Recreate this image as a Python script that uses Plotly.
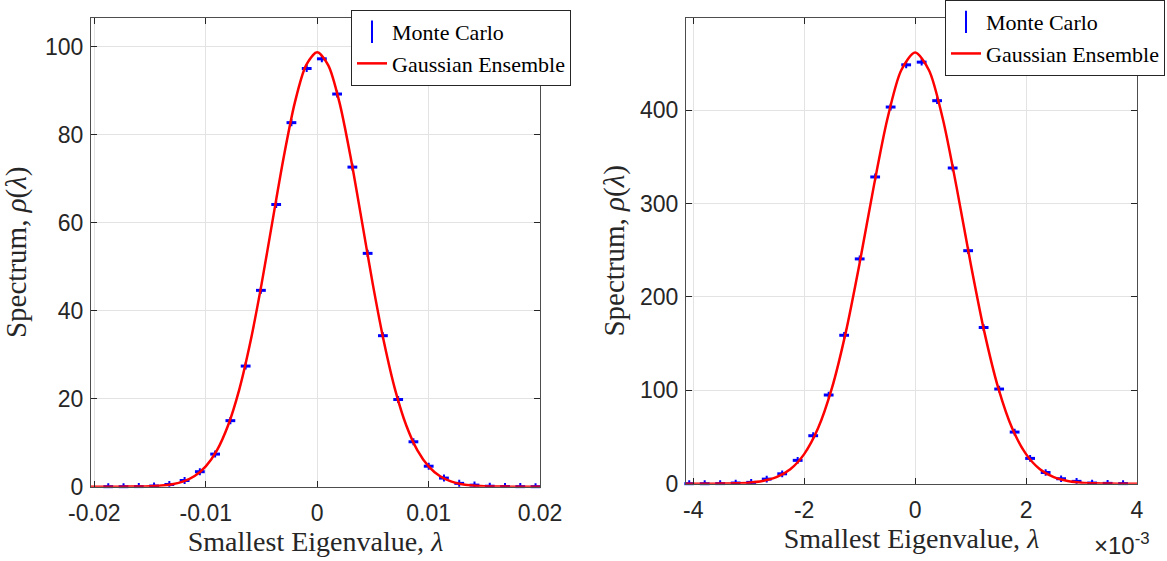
import plotly.graph_objects as go

# ---------------- Left panel data ----------------
mc_x_left = [-0.01875, -0.01738, -0.01601, -0.01464, -0.01327, -0.01190, -0.01053, -0.00916,
             -0.00779, -0.00642, -0.00505, -0.00368, -0.00231, -0.00094, 0.00042, 0.00179,
             0.00316, 0.00453, 0.00590, 0.00727, 0.00864, 0.01001, 0.01138, 0.01275,
             0.01412, 0.01549, 0.01686, 0.01823, 0.01960]
mc_y_left = [0.0, 0.0, 0.02, 0.15, 0.5, 1.4, 3.4, 7.4, 15.0, 27.4, 44.6, 64.1, 82.7, 95.0,
             97.2, 89.2, 72.6, 53.0, 34.3, 19.8, 10.2, 4.65, 1.95, 0.75, 0.35, 0.1, 0.03, 0.01, 0.0]

ge_x_left = [-0.0203, -0.020, -0.019, -0.018, -0.017, -0.016, -0.015, -0.014, -0.013, -0.012,
             -0.011, -0.010, -0.009, -0.008, -0.007, -0.006, -0.005, -0.004, -0.003, -0.002,
             -0.001, 0.000, 0.001, 0.002, 0.003, 0.004, 0.005, 0.006, 0.007, 0.008, 0.009,
             0.010, 0.011, 0.012, 0.013, 0.014, 0.015, 0.016, 0.017, 0.018, 0.019, 0.020]
ge_y_left = [0.0, 0.0, 0.0, 0.0, 0.01, 0.04, 0.10, 0.24, 0.56, 1.20,
             2.42, 4.61, 8.25, 13.9, 22.0, 32.8, 45.9, 60.5, 74.9, 87.3,
             95.7, 98.7, 95.7, 87.3, 74.9, 60.5, 45.9, 32.8, 22.0, 13.9, 8.25,
             4.61, 2.42, 1.20, 0.56, 0.24, 0.10, 0.04, 0.01, 0.0, 0.0, 0.0]

left_xticks = [-0.02, -0.01, 0, 0.01, 0.02]
left_xticktext = ["-0.02", "-0.01", "0", "0.01", "0.02"]
left_yticks = [0, 20, 40, 60, 80, 100]

# ---------------- Right panel data ----------------
mc_x_right = [-4.072e-3, -3.793e-3, -3.514e-3, -3.234e-3, -2.955e-3, -2.675e-3, -2.396e-3,
              -2.117e-3, -1.837e-3, -1.558e-3, -1.279e-3, -0.999e-3, -0.720e-3, -0.441e-3,
              -0.161e-3, 0.118e-3, 0.397e-3, 0.677e-3, 0.956e-3, 1.235e-3, 1.515e-3,
              1.794e-3, 2.073e-3, 2.353e-3, 2.632e-3, 2.911e-3, 3.191e-3, 3.470e-3, 3.749e-3]
mc_y_right = [0.0, 0.0, 0.1, 0.7, 1.4, 4.9, 10.6, 25.0, 51.4, 95.0, 159.0, 240.8, 328.6, 403.5,
              448.7, 451.6, 410.3, 338.2, 249.6, 167.3, 101.4, 55.3, 27.1, 12.0, 5.3, 2.5,
              0.7, 0.35, 0.1]

ge_x_right = [-4.13e-3, -4.0e-3, -3.75e-3, -3.5e-3, -3.25e-3, -3.0e-3, -2.75e-3, -2.5e-3,
              -2.25e-3, -2.0e-3, -1.75e-3, -1.5e-3, -1.25e-3, -1.0e-3, -0.75e-3, -0.5e-3,
              -0.25e-3, 0.0, 0.25e-3, 0.5e-3, 0.75e-3, 1.0e-3, 1.25e-3, 1.5e-3, 1.75e-3,
              2.0e-3, 2.25e-3, 2.5e-3, 2.75e-3, 3.0e-3, 3.25e-3, 3.5e-3, 3.75e-3, 4.0e-3]
ge_y_right = [0.0, 0.01, 0.04, 0.13, 0.39, 1.1, 2.9, 7.0, 15.5, 31.7, 59.3, 102.3, 162.1,
              236.3, 316.9, 390.6, 442.9, 461.8, 442.9, 390.6, 316.9, 236.3, 162.1, 102.3,
              59.3, 31.7, 15.5, 7.0, 2.9, 1.1, 0.39, 0.13, 0.04, 0.01]

right_xticks = [-4e-3, -2e-3, 0, 2e-3, 4e-3]
right_xticktext = ["-4", "-2", "0", "2", "4"]
right_yticks = [0, 100, 200, 300, 400]

W, H = 1167, 561
BLUE = "#0000ff"
RED = "#ff0000"
SERIF = "Liberation Serif"
SANS = "Liberation Sans"

fig = go.Figure()

def add_panel(mx, my, gx, gy, xa, ya, legend, errpix):
    # legend-only entry showing the errorbar glyph
    fig.add_trace(go.Scatter(
        x=[None], y=[None], mode="markers", name="Monte Carlo",
        xaxis=xa, yaxis=ya, legend=legend,
        marker=dict(symbol="line-ns", size=20, color=BLUE,
                    line=dict(color=BLUE, width=2)),
    ))
    fig.add_trace(go.Scatter(
        x=mx, y=my, mode="markers", name="Monte Carlo", showlegend=False,
        xaxis=xa, yaxis=ya, legend=legend,
        marker=dict(symbol="line-ew", size=7, color=BLUE,
                    line=dict(color=BLUE, width=3)),
        error_y=dict(type="constant", value=errpix, width=0, thickness=2, color=BLUE),
        cliponaxis=False,
    ))
    fig.add_trace(go.Scatter(
        x=gx, y=gy, mode="lines", name="Gaussian Ensemble",
        xaxis=xa, yaxis=ya, legend=legend,
        line=dict(color=RED, width=2.5, shape="spline", smoothing=0.8),
    ))

add_panel(mc_x_left, mc_y_left, ge_x_left, ge_y_left, "x", "y", "legend", 0.8)
add_panel(mc_x_right, mc_y_right, ge_x_right, ge_y_right, "x2", "y2", "legend2", 3.6)

axis_common = dict(
    showline=True, linecolor="#4d4d4d", linewidth=1, mirror="ticks",
    ticks="inside", ticklen=6, tickcolor="#262626",
    showgrid=True, gridcolor="#e3e3e3", gridwidth=1,
    zeroline=False, automargin=False,
    tickfont=dict(family=SANS, size=23, color="#262626"),
)
xtitle_font = dict(family=SERIF, size=28, color="#262626")
ytitle_font = dict(family=SERIF, size=29, color="#262626")

def px_x(p):
    return p / W

def px_y(p):
    return 1 - p / H

fig.update_layout(
    width=W, height=H,
    margin=dict(l=0, r=0, t=0, b=0),
    paper_bgcolor="white", plot_bgcolor="white",
    xaxis=dict(domain=[px_x(91), px_x(540)], range=[-0.0203, 0.020], anchor="y",
               tickvals=left_xticks, ticktext=left_xticktext, ticklabelstandoff=6,
               title=dict(text="Smallest Eigenvalue, <i>λ</i>", font=xtitle_font, standoff=4),
               **axis_common),
    yaxis=dict(domain=[px_y(486), px_y(13)], range=[0, 106.5], anchor="x",
               tickvals=left_yticks, ticklabelstandoff=2,
               title=dict(text="Spectrum, <i>ρ</i>(<i>λ</i>)", font=ytitle_font, standoff=12),
               **axis_common),
    xaxis2=dict(domain=[px_x(686), px_x(1137)], range=[-4.13e-3, 4.0e-3], anchor="y2",
                tickvals=right_xticks, ticktext=right_xticktext, ticklabelstandoff=6,
                title=dict(text="Smallest Eigenvalue, <i>λ</i>", font=xtitle_font, standoff=4),
                **axis_common),
    yaxis2=dict(domain=[px_y(483), px_y(13)], range=[0, 499], anchor="x2",
                tickvals=right_yticks, ticklabelstandoff=2,
                title=dict(text="Spectrum, <i>ρ</i>(<i>λ</i>)", font=ytitle_font, standoff=6),
                **axis_common),
    legend=dict(x=px_x(571), y=px_y(5), xanchor="right", yanchor="top",
                bgcolor="white", bordercolor="#262626", borderwidth=1,
                font=dict(family=SERIF, size=22, color="#000000"),
                tracegroupgap=0, itemwidth=30),
    legend2=dict(x=px_x(1165), y=px_y(-5), xanchor="right", yanchor="top",
                 bgcolor="white", bordercolor="#262626", borderwidth=1,
                 font=dict(family=SERIF, size=22, color="#000000"),
                 tracegroupgap=0, itemwidth=30),
    showlegend=True,
)

fig.add_annotation(
    text="×10<sup>-3</sup>", xref="paper", yref="paper",
    x=px_x(1152), y=px_y(561), xanchor="right", yanchor="bottom",
    showarrow=False, font=dict(family=SANS, size=24, color="#262626"),
)

fig.write_html("out.html")
